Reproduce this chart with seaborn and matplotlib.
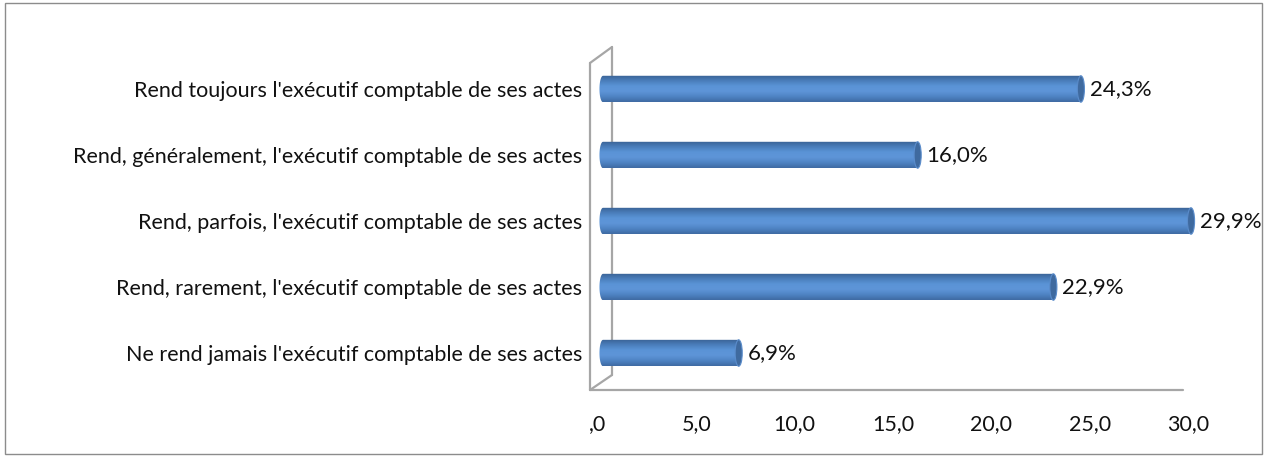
import numpy as np
import pandas as pd
import matplotlib
matplotlib.use("Agg")
import matplotlib.pyplot as plt
import matplotlib.transforms as mtransforms
from matplotlib.patches import Ellipse, Rectangle, PathPatch
from matplotlib.path import Path
from matplotlib.colors import LinearSegmentedColormap
from matplotlib.lines import Line2D
import seaborn as sns

categories = [
    "Rend toujours l'exécutif comptable de ses actes",
    "Rend, généralement, l'exécutif comptable de ses actes",
    "Rend, parfois, l'exécutif comptable de ses actes",
    "Rend, rarement, l'exécutif comptable de ses actes",
    "Ne rend jamais l'exécutif comptable de ses actes",
]
values = [24.3, 16.0, 29.9, 22.9, 6.9]
value_labels = ["24,3%", "16,0%", "29,9%", "22,9%", "6,9%"]
x_ticks = [0, 5, 10, 15, 20, 25, 30]
x_tick_labels = [",0", "5,0", "10,0", "15,0", "20,0", "25,0", "30,0"]

sns.set_style("white")
plt.rcParams["font.family"] = ["Lato", "DejaVu Sans"]

W, H = 1265, 457
fig = plt.figure(figsize=(W / 100, H / 100), dpi=100)

# bars sit on the back plane, a few pixels right of the front tick scale
x0_px = 603
ax = fig.add_axes([x0_px / W, 1 - 390 / H, 590 / W, (390 - 47) / H])
ax.set_zorder(1)

df = pd.DataFrame({"cat": categories, "val": values})
bar_h = 0.4
sns.barplot(data=df, x="val", y="cat", orient="h", ax=ax, width=bar_h,
            color="#4F81BD", saturation=1)
ax.set_xlim(0, 30)
ax.set_ylim(4.56, -0.636)

cyl = LinearSegmentedColormap.from_list(
    "cyl", ["#3A6295", "#4A7DBA", "#5A93D6", "#5E95D8", "#4F84C4", "#3F6BA3"])
grad = np.linspace(0, 1, 64).reshape(-1, 1)
cap_w = 0.36
theta = np.linspace(np.pi / 2, 3 * np.pi / 2, 25)

for patch, v in zip(ax.patches, values):
    y0 = patch.get_y()
    h = patch.get_height()
    yc = y0 + h / 2
    patch.set_visible(False)
    # cylinder outline: rounded left end, straight body up to the value
    ex = (cap_w / 2) * np.cos(theta)
    ey = yc - (h / 2) * np.sin(theta)
    verts = [(v, y0)] + list(zip(ex, ey)) + [(v, y0 + h), (v, y0)]
    codes = [Path.MOVETO] + [Path.LINETO] * (len(verts) - 2) + [Path.CLOSEPOLY]
    shape = PathPatch(Path(verts, codes), facecolor="none", edgecolor="none")
    shape.set_clip_on(False)
    ax.add_patch(shape)
    im = ax.imshow(grad, cmap=cyl, aspect="auto",
                   extent=(-cap_w / 2, v, y0 + h, y0),
                   zorder=2, interpolation="bicubic")
    im.set_clip_path(shape)
    im.set_clip_box(fig.bbox)
    # right end cap
    ax.add_patch(Ellipse((v, yc), cap_w, h, facecolor="#3F6A9F",
                         edgecolor="#5A8CCB", linewidth=0.8, zorder=3,
                         clip_on=False))

for i, (v, lab) in enumerate(zip(values, value_labels)):
    ax.text(v + 0.45, i, lab, va="center", ha="left", fontsize=16,
            color="#111111", zorder=4, clip_on=False)

ax.set_xticks(x_ticks)
ax.set_xticklabels(x_tick_labels, fontsize=15.5, color="#111111")
ax.tick_params(axis="x", length=0, pad=17)
ax.tick_params(axis="y", length=0, pad=15)
shift = mtransforms.ScaledTranslation(-5 / 100, 0, fig.dpi_scale_trans)
for t in ax.get_xticklabels():
    t.set_transform(t.get_transform() + shift)
for t in ax.get_yticklabels():
    t.set_fontsize(15.5)
    t.set_color("#111111")
ax.set_xlabel("")
ax.set_ylabel("")
for s in ax.spines.values():
    s.set_visible(False)
ax.set_facecolor("none")

# 3D wall and floor outline, kept behind the bars
def px(x, y):
    return (x / W, 1 - y / H)

wall = "#a6a6a6"
segs = [
    [(612, 47), (612, 375)],
    [(590, 63), (590, 390)],
    [(590, 63), (612, 47)],
    [(590, 390), (612, 375)],
    [(590, 390), (1183, 390)],
]
for (a, b) in segs:
    xa, ya = px(*a)
    xb, yb = px(*b)
    fig.add_artist(Line2D([xa, xb], [ya, yb], color=wall, linewidth=1.6,
                          transform=fig.transFigure, zorder=-1))

# chart border
fig.add_artist(Rectangle(px(5, 454), (1262 - 5) / W, (454 - 3) / H,
                         transform=fig.transFigure, fill=False,
                         edgecolor="#8c8c8c", linewidth=1.0, zorder=-1))

fig.savefig("out.png", dpi=100)
